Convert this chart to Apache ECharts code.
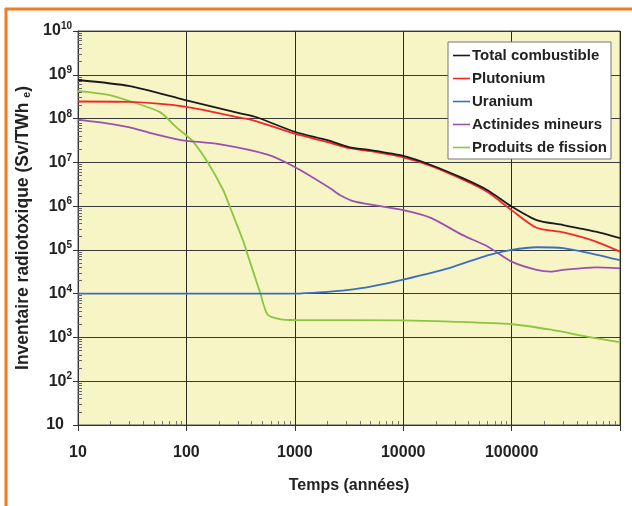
<!DOCTYPE html>
<html>
<head>
<meta charset="utf-8">
<script src="https://cdn.jsdelivr.net/npm/echarts@6/dist/echarts.min.js"></script>
<style>
html,body{margin:0;padding:0;background:#fff;}
#chart{width:632px;height:506px;}
</style>
</head>
<body>
<div id="chart"></div>
<script>
// ---- Data ----
const seriesNames = ['Total combustible', 'Plutonium', 'Uranium', 'Actinides mineurs', 'Produits de fission'];

const totalYears  = [10, 30, 100, 300, 430, 1000, 2000, 3200, 5000, 10000, 18000, 35000, 60000, 100000, 170000, 300000, 600000, 1000000];
const totalValues = [7.6e8, 5.5e8, 2.6e8, 1.35e8, 1.1e8, 5.0e7, 3.2e7, 2.2e7, 1.9e7, 1.4e7, 8.7e6, 4.4e6, 2.3e6, 9.8e5, 4.8e5, 3.7e5, 2.6e5, 1.85e5];

const plutoniumYears  = [10, 30, 100, 300, 430, 1000, 2000, 3200, 5000, 10000, 18000, 35000, 60000, 100000, 170000, 300000, 600000, 1000000];
const plutoniumValues = [2.45e8, 2.4e8, 1.85e8, 1.07e8, 8.9e7, 4.5e7, 2.9e7, 2.1e7, 1.8e7, 1.3e7, 8.3e6, 4.1e6, 2.1e6, 8.1e5, 3.2e5, 2.5e5, 1.55e5, 9.1e4];

const uraniumYears  = [10, 100, 1000, 2000, 3000, 5000, 10000, 27000, 60000, 100000, 170000, 300000, 600000, 1000000];
const uraniumValues = [1e4, 1e4, 1e4, 1.1e4, 1.2e4, 1.45e4, 2.1e4, 3.9e4, 7.5e4, 1e5, 1.15e5, 1.1e5, 7.8e4, 5.8e4];

const actinidesYears  = [10, 20, 30, 45, 80, 100, 200, 560, 1000, 2100, 2600, 3600, 10000, 18000, 35000, 60000, 100000, 170000, 230000, 300000, 600000, 1000000];
const actinidesValues = [9.5e7, 7.6e7, 6.3e7, 4.8e7, 3.4e7, 3.1e7, 2.6e7, 1.5e7, 7.8e6, 2.6e6, 1.8e6, 1.26e6, 8.1e5, 5.4e5, 2.2e5, 1.2e5, 5.4e4, 3.5e4, 3.2e4, 3.5e4, 4.0e4, 3.8e4];

const fissionYears  = [10, 20, 30, 57, 81, 112, 158, 219, 251, 331, 363, 479, 562, 741, 1000, 10000, 27000, 100000, 230000, 540000, 1000000];
const fissionValues = [4.3e8, 3.4e8, 2.5e8, 1.4e8, 6.3e7, 3.2e7, 9.8e6, 2.3e6, 9.8e5, 1.7e5, 8.5e4, 1.05e4, 3.3e3, 2.6e3, 2.5e3, 2.45e3, 2.3e3, 2.0e3, 1.5e3, 1.0e3, 7.8e2];

const xTickLabels = ['10', '100', '1000', '10000', '100000', ''];
const yExponents = [1, 2, 3, 4, 5, 6, 7, 8, 9, 10];

// ---- Helpers ----
const FONT = '"Liberation Sans", Arial, sans-serif';
function pairs(xs, ys) { return xs.map((x, i) => [x, ys[i]]); }
function minorValues(fromExp, toExp) {
  const out = [];
  for (let n = fromExp; n < toExp; n++) {
    for (let k = 2; k <= 9; k++) out.push(k * Math.pow(10, n));
  }
  return out;
}
const xMajor = [1e1, 1e2, 1e3, 1e4, 1e5, 1e6];
const yMajor = yExponents.map(e => Math.pow(10, e));

const colors = ['#1a1a1a', '#f22828', '#3a6fc0', '#9a52b0', '#8cc63f'];
const dataSets = [
  pairs(totalYears, totalValues),
  pairs(plutoniumYears, plutoniumValues),
  pairs(uraniumYears, uraniumValues),
  pairs(actinidesYears, actinidesValues),
  pairs(fissionYears, fissionValues)
];

const chart = echarts.init(document.getElementById('chart'), null, { renderer: 'canvas' });

const option = {
  animation: false,
  textStyle: { fontFamily: FONT },
  graphic: [
    { type: 'line', shape: { x1: 5, y1: 9, x2: 632, y2: 9 }, style: { stroke: '#f47b20', lineWidth: 3 } },
    { type: 'line', shape: { x1: 6, y1: 8, x2: 6, y2: 506 }, style: { stroke: '#f47b20', lineWidth: 3 } }
  ],
  grid: {
    left: 78, right: 12, top: 31, bottom: 81,
    show: true, backgroundColor: '#f7f5c6', borderColor: '#555', borderWidth: 1
  },
  legend: {
    orient: 'vertical',
    left: 448, top: 42,
    width: 161,
    backgroundColor: '#ffffff',
    borderColor: '#777',
    borderWidth: 1,
    padding: [6, 4, 4, 5],
    icon: 'rect',
    itemWidth: 17, itemHeight: 1.6, itemGap: 8,
    textStyle: { fontFamily: FONT, fontWeight: 'bold', fontSize: 15, lineHeight: 15, color: '#222', padding: [0, 0, 0, -3] },
    data: seriesNames
  },
  xAxis: [
    {
      type: 'log', logBase: 10, min: 10, max: 1e6, interval: 1,
      gridIndex: 0,
      name: 'Temps (années)', nameLocation: 'middle', nameGap: 53,
      nameTextStyle: { fontFamily: FONT, fontWeight: 'bold', fontSize: 16, color: '#222' },
      axisLine: { show: true, lineStyle: { color: '#333', width: 1 } },
      axisTick: { show: true, inside: false, length: 6, lineStyle: { color: '#333' }, customValues: xMajor },
      axisLabel: {
        margin: 20, fontFamily: FONT, fontWeight: 'bold', fontSize: 16, color: '#222',
        customValues: xMajor,
        formatter: function (v) { const i = Math.round(Math.log10(v)) - 1; return xTickLabels[i] || ''; }
      },
      splitLine: { show: true, lineStyle: { color: '#2a2a2a', width: 1 } }
    },
    {
      type: 'log', logBase: 10, min: 10, max: 1e6, interval: 1,
      gridIndex: 0, position: 'bottom',
      axisLine: { show: false },
      axisTick: { show: true, inside: true, length: 4, lineStyle: { color: '#777' }, customValues: minorValues(1, 6) },
      axisLabel: { show: false },
      splitLine: { show: false }
    }
  ],
  yAxis: [
    {
      type: 'log', logBase: 10, min: 10, max: 1e10, interval: 1,
      gridIndex: 0,
      name: '{a|Inventaire radiotoxique (Sv/TWh }{e|e}{a|)}',
      nameLocation: 'middle', nameGap: 45,
      nameTextStyle: {
        rich: {
          a: { fontFamily: FONT, fontWeight: 'bold', fontSize: 17.5, color: '#222' },
          e: { fontFamily: FONT, fontWeight: 'bold', fontSize: 10.5, color: '#222', verticalAlign: 'bottom' }
        }
      },
      axisLine: { show: true, lineStyle: { color: '#333', width: 1 } },
      axisTick: { show: true, inside: false, length: 5, lineStyle: { color: '#333' }, customValues: yMajor },
      axisLabel: {
        margin: 6, customValues: yMajor,
        formatter: function (v) {
          const e = Math.round(Math.log10(v));
          return e === 1 ? '{p|10}' : '{b|10}{s|' + e + '}';
        },
        rich: {
          b: { fontFamily: FONT, fontWeight: 'bold', fontSize: 16, color: '#222' },
          p: { fontFamily: FONT, fontWeight: 'bold', fontSize: 16, color: '#222', padding: [0, 8, 0, 0] },
          s: { fontFamily: FONT, fontWeight: 'bold', fontSize: 10, color: '#222', verticalAlign: 'top', padding: [0, 0, 9, 0] }
        }
      },
      splitLine: { show: true, lineStyle: { color: '#3a3a3a', width: 1 } }
    },
    {
      type: 'log', logBase: 10, min: 10, max: 1e10, interval: 1,
      gridIndex: 0, position: 'left',
      axisLine: { show: false },
      axisTick: { show: true, inside: true, length: 4, lineStyle: { color: '#666' }, customValues: minorValues(1, 10) },
      axisLabel: { show: false },
      splitLine: { show: false }
    }
  ],
  series: seriesNames.map((name, i) => ({
    name: name,
    type: 'line',
    xAxisIndex: 0, yAxisIndex: 0,
    data: dataSets[i],
    symbol: 'none',
    smooth: 0.25,
    color: colors[i],
    lineStyle: { color: colors[i], width: 1.8 },
    z: 10 - i
  }))
};

chart.setOption(option);
</script>
</body>
</html>
